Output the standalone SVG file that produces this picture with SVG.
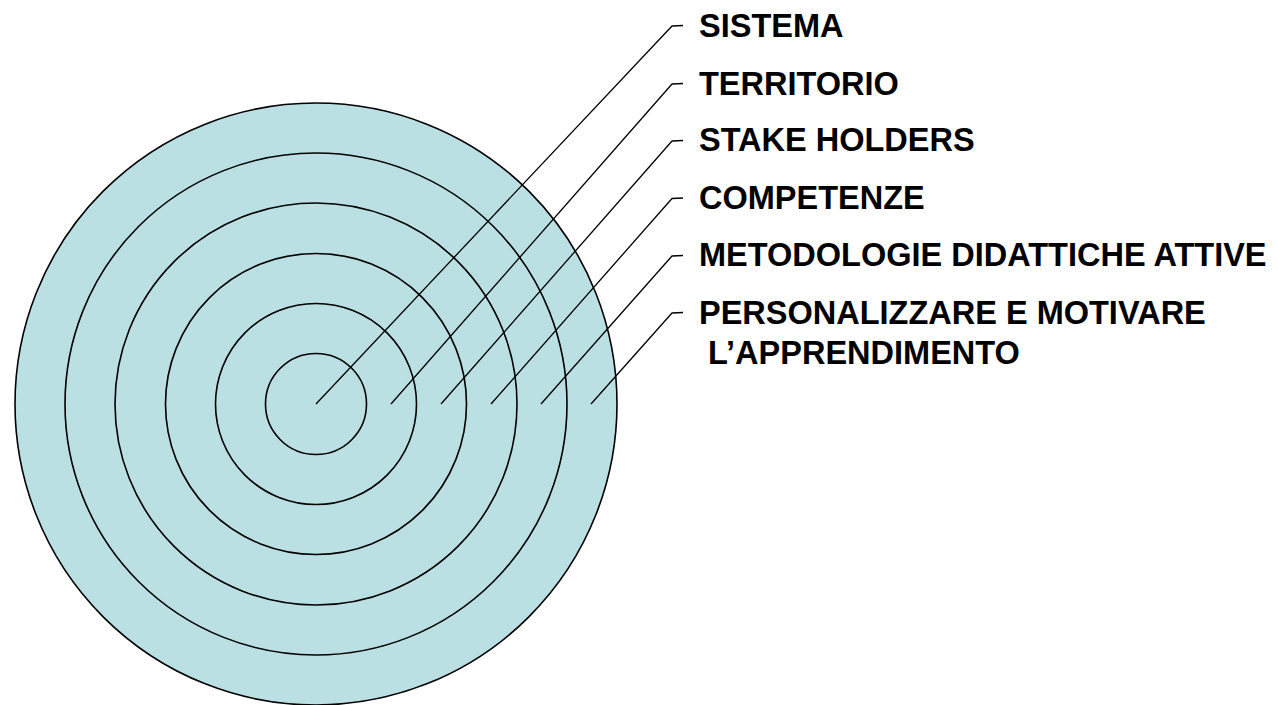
<svg xmlns="http://www.w3.org/2000/svg" width="1278" height="705" viewBox="0 0 1278 705">
<style>
.ring{fill:#BBE0E3;stroke:#000;stroke-width:1.6}
.lead{fill:none;stroke:#000;stroke-width:1.3;stroke-linejoin:round}
.lbl{font-family:"Liberation Sans",Arial,sans-serif;font-weight:bold;font-size:32.5px;fill:#000}
</style>
<rect width="1278" height="705" fill="#fff"/>
<g id="rings">
<circle id="ring6" class="ring" cx="316" cy="404" r="301"/>
<circle id="ring5" class="ring" cx="316" cy="404" r="251"/>
<circle id="ring4" class="ring" cx="316" cy="404" r="201"/>
<circle id="ring3" class="ring" cx="316" cy="404" r="150.5"/>
<circle id="ring2" class="ring" cx="316" cy="404" r="100.5"/>
<circle id="ring1" class="ring" cx="316" cy="404" r="50.5"/>
</g>
<g id="connectors">
<polyline class="lead" points="316,404 672,26 683,25.5"/>
<polyline class="lead" points="391,404 672,84 683,83.5"/>
<polyline class="lead" points="441,404 672,141 683,140.5"/>
<polyline class="lead" points="491,404 672,198.5 683,198"/>
<polyline class="lead" points="541,404 672,256 683,255.5"/>
<polyline class="lead" points="591,404 672,313 683,312.5"/>
</g>
<g id="label-sistema"><text class="lbl" x="699" y="37">SISTEMA</text></g>
<g id="label-territorio"><text class="lbl" x="699" y="94.5">TERRITORIO</text></g>
<g id="label-stakeholders"><text class="lbl" x="699" y="151">STAKE HOLDERS</text></g>
<g id="label-competenze"><text class="lbl" x="699" y="209">COMPETENZE</text></g>
<g id="label-metodologie"><text class="lbl" x="699" y="266">METODOLOGIE DIDATTICHE ATTIVE</text></g>
<g id="label-personalizzare"><text class="lbl" x="699" y="323.5">PERSONALIZZARE E MOTIVARE</text><text class="lbl" x="699" y="364" xml:space="preserve"> L’APPRENDIMENTO</text></g>
</svg>
